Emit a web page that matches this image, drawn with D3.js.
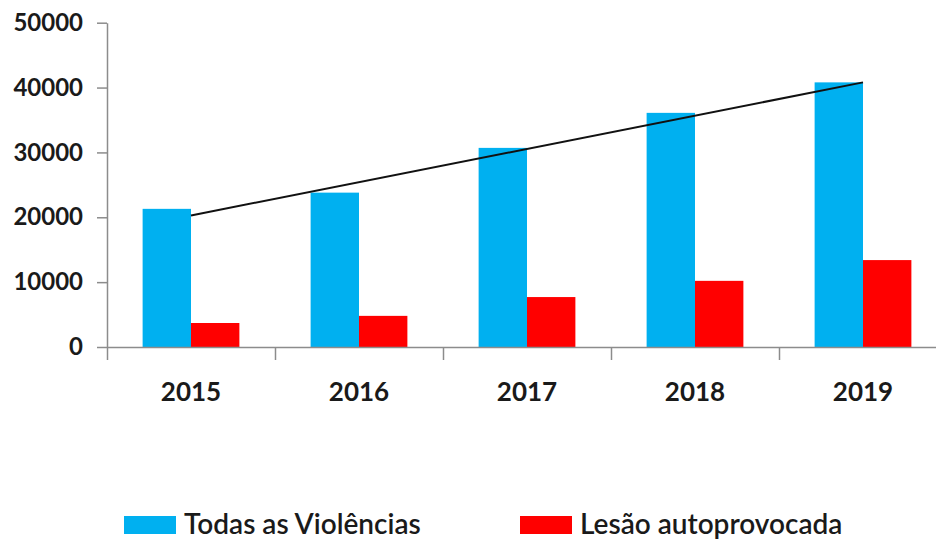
<!DOCTYPE html>
<html lang="pt">
<head>
  <meta charset="UTF-8" />
  <title>Violências</title>
  <script src="https://d3js.org/d3.v7.min.js"></script>
  <style>
    body { margin: 0; background: #fff; }
    text { font-family: Lato, "Liberation Sans", sans-serif; fill: #1a1a1a; }
    .axis path, .axis line { stroke: #8c8c8c; stroke-width: 1.5px; }
  </style>
</head>
<body>
  <div id="chart"></div>

  <script>
    const years = ["2015", "2016", "2017", "2018", "2019"];
    const seriesNames = ["Todas as Violências", "Lesão autoprovocada"];
    const todas = [21300, 23800, 30700, 36100, 40800];
    const lesao = [3700, 4800, 7700, 10200, 13400];
    const yTicks = [0, 10000, 20000, 30000, 40000, 50000];
    const colors = ["#00b0f0", "#ff0000"];

    const width = 936, height = 540;
    const plotLeft = 107, plotRight = 947, plotTop = 22.7, plotBottom = 347;

    const svg = d3.select("#chart")
      .append("svg")
      .attr("width", width)
      .attr("height", height);

    const x = d3.scaleBand()
      .domain(years)
      .range([plotLeft, plotRight])
      .paddingInner(0.424)
      .paddingOuter(0.212);

    const x1 = d3.scaleBand()
      .domain(seriesNames)
      .range([0, x.bandwidth()]);

    const y = d3.scaleLinear()
      .domain([0, 50000])
      .range([plotBottom, plotTop]);

    // y axis
    svg.append("g")
      .attr("class", "axis")
      .attr("transform", `translate(${plotLeft},0)`)
      .call(d3.axisLeft(y).tickValues(yTicks).tickSize(10).tickSizeOuter(0).tickPadding(14).tickFormat(d3.format("d")))
      .call(g => g.selectAll("text")
        .style("font-size", "24px")
        .style("font-weight", "bold")
        .attr("fill", "#1a1a1a"));

    // bars
    const data = years.map((yr, i) => ({ year: yr, values: [todas[i], lesao[i]] }));

    svg.append("g")
      .selectAll("g")
      .data(data)
      .join("g")
      .attr("transform", d => `translate(${x(d.year)},0)`)
      .selectAll("rect")
      .data(d => d.values.map((v, j) => ({ key: seriesNames[j], value: v, color: colors[j] })))
      .join("rect")
      .attr("x", d => x1(d.key))
      .attr("width", x1.bandwidth())
      .attr("y", d => y(d.value))
      .attr("height", d => plotBottom - y(d.value))
      .attr("fill", d => d.color);

    // x axis: ticks sit between categories
    const xEdge = d3.scaleLinear().domain([0, years.length]).range([plotLeft, plotRight]);
    svg.append("g")
      .attr("class", "axis")
      .attr("transform", `translate(0,${plotBottom})`)
      .call(d3.axisBottom(xEdge).tickValues(d3.range(years.length + 1)).tickSize(13).tickSizeOuter(0).tickFormat(""));

    svg.append("g")
      .selectAll("text")
      .data(years)
      .join("text")
      .attr("x", d => x(d) + x.bandwidth() / 2)
      .attr("y", 400.5)
      .attr("text-anchor", "middle")
      .style("font-size", "26px")
      .style("font-weight", "bold")
      .text(d => d);

    // linear trend of "Todas as Violências"
    const n = todas.length;
    const meanX = d3.mean(d3.range(n));
    const meanY = d3.mean(todas);
    const slope = d3.sum(todas, (v, i) => (i - meanX) * (v - meanY)) / d3.sum(d3.range(n), i => (i - meanX) ** 2);
    const intercept = meanY - slope * meanX;
    const trend = [0, n - 1].map(i => ({ year: years[i], value: intercept + slope * i }));

    svg.append("path")
      .datum(trend)
      .attr("fill", "none")
      .attr("stroke", "#111")
      .attr("stroke-width", 2)
      .attr("d", d3.line()
        .x(d => x(d.year) + x.bandwidth() / 2)
        .y(d => y(d.value)));

    // legend
    const legendX = [124, 520];
    const legend = svg.append("g")
      .selectAll("g")
      .data(seriesNames)
      .join("g")
      .attr("transform", (d, i) => `translate(${legendX[i]},516)`);

    legend.append("rect")
      .attr("width", 52)
      .attr("height", 18)
      .attr("fill", (d, i) => colors[i]);

    legend.append("text")
      .attr("x", 60)
      .attr("y", 18)
      .style("font-size", "28px")
      .style("font-weight", "600")
      .text(d => d);
  </script>
</body>
</html>
